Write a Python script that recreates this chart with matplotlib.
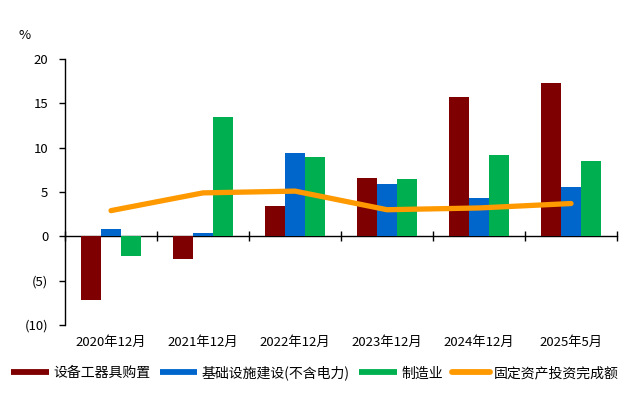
import numpy as np
import matplotlib
matplotlib.use("Agg")
from matplotlib import pyplot as plt
from matplotlib.lines import Line2D

plt.rcParams['font.family'] = ['Noto Sans CJK SC', 'DejaVu Sans']

# data
categories = ["2020年12月", "2021年12月", "2022年12月", "2023年12月", "2024年12月", "2025年5月"]
equipment = [-7.2, -2.6, 3.4, 6.6, 15.7, 17.3]
infrastructure = [0.8, 0.4, 9.4, 5.9, 4.3, 5.6]
manufacturing = [-2.2, 13.5, 9.0, 6.5, 9.2, 8.5]
fixed_asset = [2.9, 4.9, 5.1, 3.0, 3.2, 3.7]

series_names = ["设备工器具购置", "基础设施建设(不含电力)", "制造业", "固定资产投资完成额"]
colors = ["#7F0000", "#0066CC", "#00B050", "#FF9900"]

fig = plt.figure(figsize=(6.24, 3.98), dpi=100)
ax = fig.add_axes([0.1042, 0.1834, 0.8846, 0.6684])

x = np.arange(len(categories))
w = 0.22

ax.bar(x - w, equipment, w, color=colors[0])
ax.bar(x, infrastructure, w, color=colors[1])
ax.bar(x + w, manufacturing, w, color=colors[2])
ax.plot(x, fixed_asset, color=colors[3], lw=3.8, solid_capstyle='round',
        solid_joinstyle='round', zorder=3)

ax.set_xlim(-0.5, len(categories) - 0.5)
ax.set_ylim(-10, 20)
ax.set_yticks([-10, -5, 0, 5, 10, 15, 20])
ax.set_yticklabels(["(10)", "(5)", "0", "5", "10", "15", "20"])

for s in ["top", "right", "bottom"]:
    ax.spines[s].set_visible(False)
ax.spines["left"].set_linewidth(1.0)
ax.tick_params(axis='y', direction='out', length=4, width=1, labelsize=9.5, pad=8)

# category labels at the bottom, no ticks
ax.set_xticks(x)
ax.set_xticklabels(categories, fontsize=9.5)
ax.tick_params(axis='x', length=0, pad=8)

# zero axis with boundary ticks
zero_ax = ax.secondary_xaxis(1 / 3)
zero_ax.set_xticks(np.arange(len(categories) + 1) - 0.5)
zero_ax.set_xticklabels([])
zero_ax.tick_params(direction='inout', length=7, width=1)
zero_ax.spines["bottom"].set_linewidth(1.0)

fig.text(0.04, 0.912, "%", fontsize=9.5, ha='center', va='center')

# legend: every entry drawn as a thick line segment
handles = [Line2D([], [], color=c, lw=4.2, solid_capstyle='butt') for c in colors[:3]]
handles.append(Line2D([], [], color=colors[3], lw=4.2, solid_capstyle='round'))
fig.legend(handles, series_names, loc='center', bbox_to_anchor=(0.505, 0.063), ncol=4,
           frameon=False, fontsize=10, handlelength=2.7, handletextpad=0.3,
           columnspacing=0.7, borderaxespad=0)

plt.savefig("out.png", dpi=100)
